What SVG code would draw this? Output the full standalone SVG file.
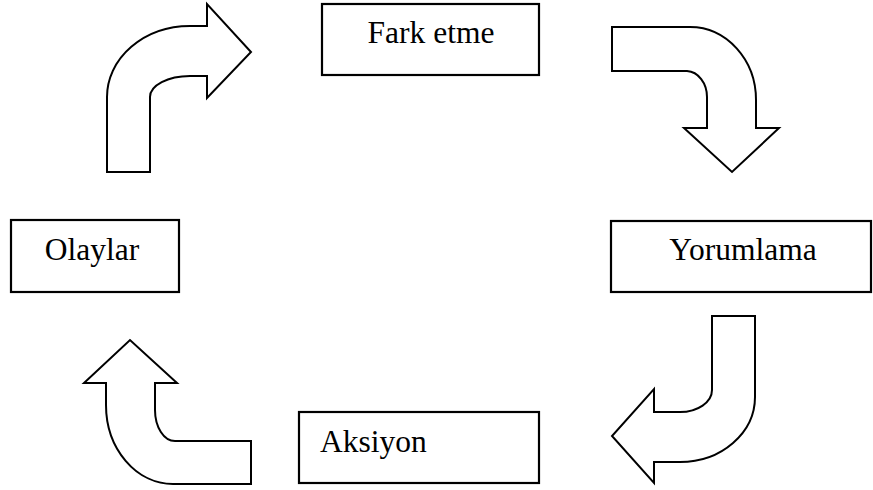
<svg xmlns="http://www.w3.org/2000/svg" width="873" height="490" viewBox="0 0 873 490">
<style>
.box{fill:#fff;stroke:#000;stroke-width:2.2}
.arr{fill:#fff;stroke:#000;stroke-width:2;stroke-linejoin:miter}
.lbl{font-family:"Liberation Serif","Times New Roman",serif;font-size:31.5px;fill:#000}
</style>
<rect width="873" height="490" fill="#fff"/>
<g id="connectors">
<path id="a1" class="arr" d="M107,172 L107,97 A83,71 0 0 1 190,26 L207,26 L207,4 L251,52 L207,98 L207,76 L190,76 A40,21 0 0 0 150,97 L150,172 Z"/>
<path id="a2" class="arr" d="M612,27 L690,27 A66,73 0 0 1 756,100 L756,128 L779,128 L732,172 L684,128 L707,128 L707,97 A21,26 0 0 0 687,71 L612,71 Z"/>
<path id="a3" class="arr" d="M712,316 L755,316 L755,397 A75,65 0 0 1 680,462 L654,462 L654,483 L612,436 L654,389 L654,412 L680,412 A32,22 0 0 0 712,390 Z"/>
<path id="a4" class="arr" d="M251,441 L251,484 L173,484 A67,79 0 0 1 106,405 L106,383 L84,383 L130,340 L177,383 L155,383 L155,410 A20,31 0 0 0 175,441 Z"/>
</g>
<g id="fark">
<rect class="box" x="322" y="4" width="217" height="71"/>
<text class="lbl" x="431" y="43" text-anchor="middle">Fark etme</text>
</g>
<g id="yorumlama">
<rect class="box" x="611" y="221" width="260" height="71"/>
<text class="lbl" x="743" y="260" text-anchor="middle">Yorumlama</text>
</g>
<g id="aksiyon">
<rect class="box" x="299" y="412" width="240" height="71"/>
<text class="lbl" x="320" y="452">Aksiyon</text>
</g>
<g id="olaylar">
<rect class="box" x="11" y="220" width="168" height="72"/>
<text class="lbl" x="92" y="260" text-anchor="middle">Olaylar</text>
</g>
</svg>
